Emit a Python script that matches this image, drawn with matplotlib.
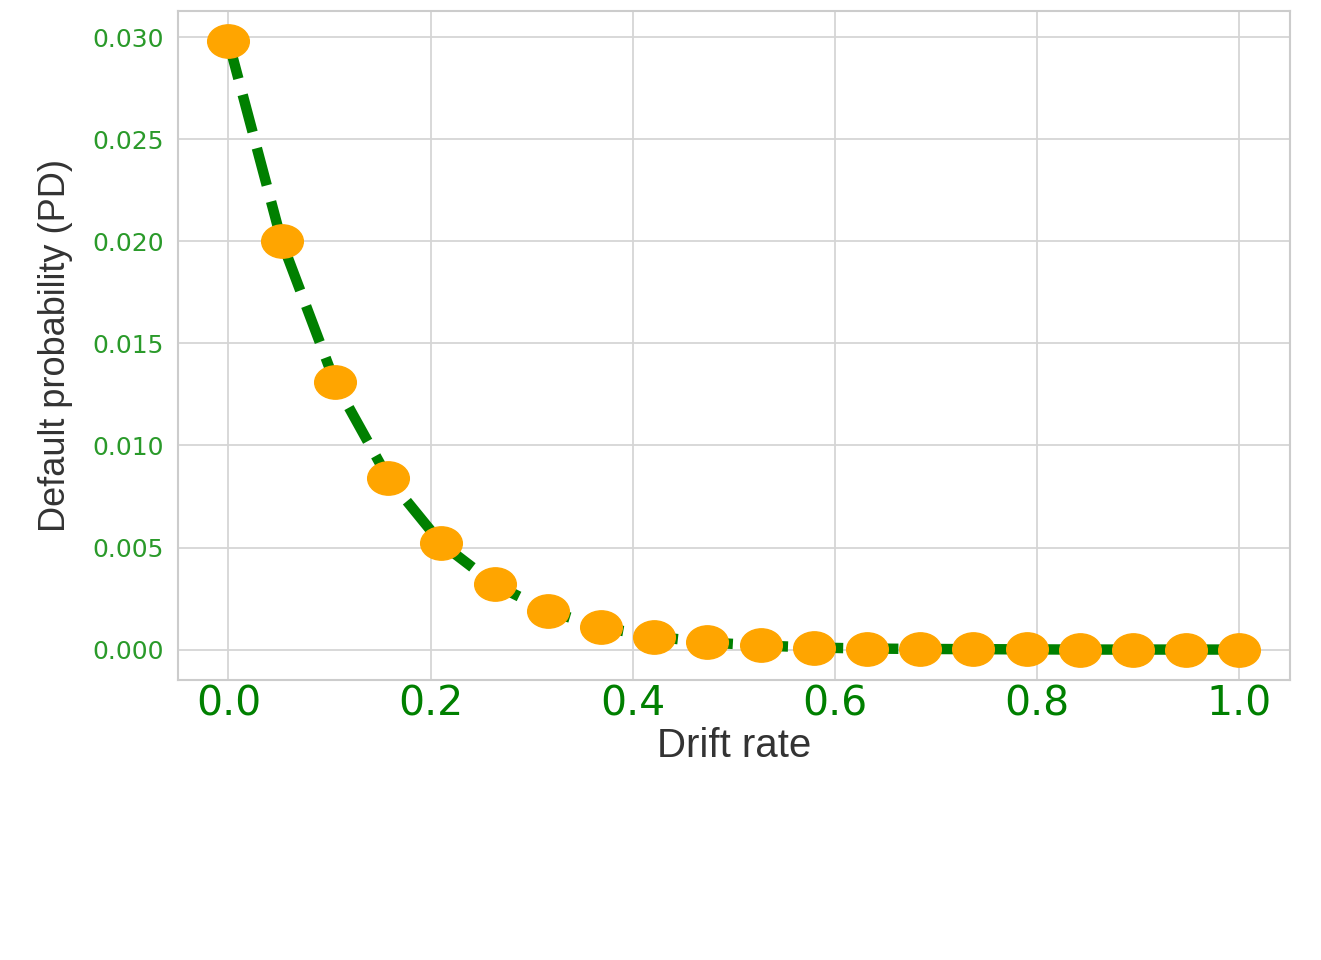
import numpy as np
import matplotlib
matplotlib.use("Agg")
import matplotlib.pyplot as plt
from matplotlib.path import Path
from matplotlib.transforms import Affine2D

plt.style.use("seaborn-v0_8-whitegrid")
plt.rcParams['font.family'] = ['Liberation Sans', 'DejaVu Sans']

drift = np.linspace(0, 1, 20)
pd_values = [0.0298, 0.0200, 0.0131, 0.0084, 0.0052, 0.0032, 0.0019, 0.0011,
             0.00064, 0.00035, 0.0002, 0.0001, 0.00005, 0.00003, 0.00002,
             0.00001, 0.0, 0.0, 0.0, 0.0]

# wide ellipse marker
ellipse = Path.unit_circle().transformed(Affine2D().scale(1.0, 0.8))

fig = plt.figure(figsize=(13.21, 9.6), dpi=100)
ax = fig.add_axes([0.1347, 0.2917, 0.8418, 0.6968])

ax.plot(drift, pd_values, color="green", linestyle="--", linewidth=7.5,
        marker=ellipse, markersize=30,
        markerfacecolor="orange", markeredgecolor="orange")

ax.set_xlabel("Drift rate", fontsize=29, color="#333333", labelpad=2)
ax.set_ylabel("Default probability (PD)", fontsize=26, color="#333333",
              labelpad=14)
ax.tick_params(axis="x", labelsize=29.5, labelcolor="green", pad=3)
ax.tick_params(axis="y", labelsize=18, labelcolor="#2a9a2a", pad=10)
for lab in ax.get_xticklabels() + ax.get_yticklabels():
    lab.set_family("DejaVu Sans")

for s in ax.spines.values():
    s.set_visible(True)
    s.set_color("#cccccc")
    s.set_linewidth(1.5)
ax.grid(True, color="#d5d5d5", linewidth=1.3)

fig.savefig("out.png", dpi=100)
